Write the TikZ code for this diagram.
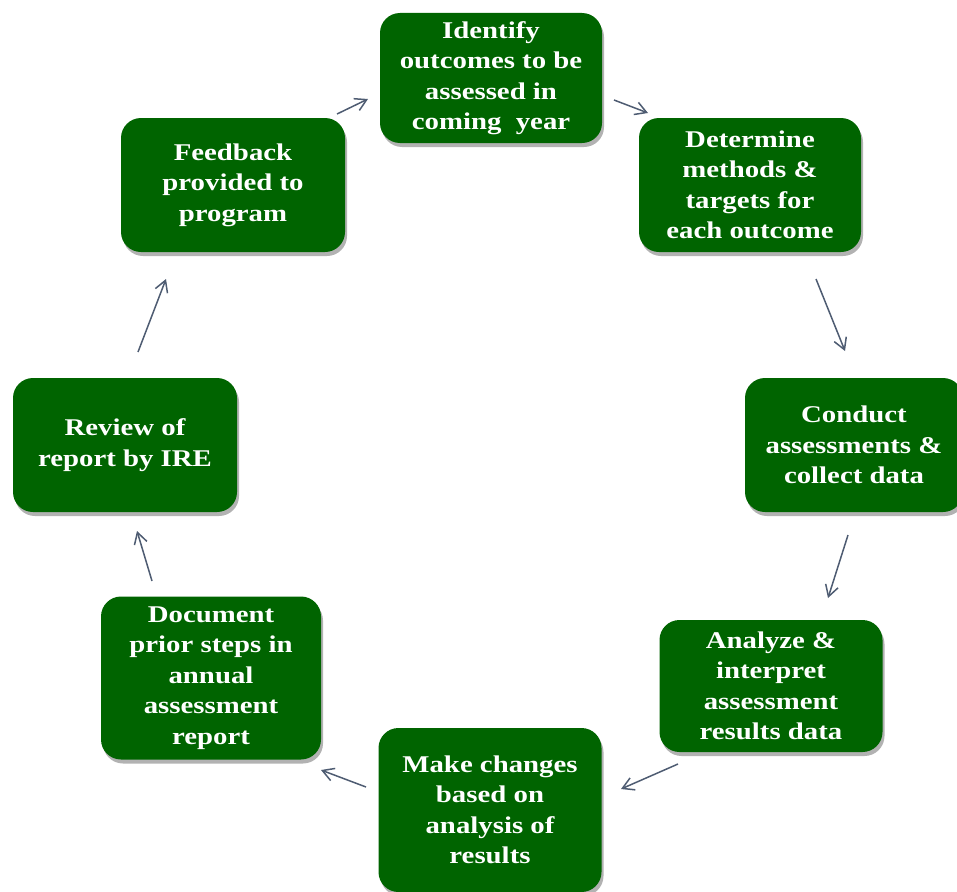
\documentclass[tikz,border=0pt]{standalone}
\usepackage{fontspec}
\setmainfont{Liberation Serif}[FakeStretch=1.2]
\usetikzlibrary{arrows.meta,shadows}
\definecolor{boxgreen}{RGB}{0,100,0}
\definecolor{arrowgray}{RGB}{78,92,114}
\tikzset{
  stepbox/.style={draw=none, fill=boxgreen, rounded corners=20pt, text=white,
    align=center, inner sep=0pt, minimum width=222pt, minimum height=134pt,
    font=\fontsize{24}{30.5}\selectfont\bfseries,
    drop shadow={shadow xshift=2pt, shadow yshift=-4pt, opacity=0.3, fill=black}},
  flow/.style={draw=arrowgray, line width=1.5pt,
    -{Straight Barb[angle=60:13pt, line width=1.5pt]}}
}
\begin{document}
\begin{tikzpicture}[x=1pt,y=-1pt]
\useasboundingbox (0,0) rectangle (957,891);
\begin{scope}
\clip (0,0) rectangle (957,891);
\node[stepbox, minimum height=130pt] (identify) at (491,78) {\raisebox{-3pt}{\begin{tabular}{@{}c@{}}Identify\\outcomes to be\\assessed in\\coming\ \ year\end{tabular}}};
\node[stepbox] (determine) at (750,185) {Determine\\methods \&\\targets for\\each outcome};
\node[stepbox, minimum width=218pt] (conduct) at (854,445) {Conduct\\assessments \&\\collect data};
\node[stepbox, minimum width=223pt, minimum height=132pt] (analyze) at (771,686) {Analyze \&\\interpret\\assessment\\results data};
\node[stepbox, minimum width=223pt, minimum height=164pt] (make) at (490,810) {Make changes\\based on\\analysis of\\results};
\node[stepbox, minimum width=220pt, minimum height=163pt] (document) at (211,678) {Document\\prior steps in\\annual\\assessment\\report};
\node[stepbox, minimum width=224pt] (review) at (125,445) {Review of\\report by IRE};
\node[stepbox, minimum width=224pt] (feedback) at (233,185) {Feedback\\provided to\\program};
\end{scope}
\coordinate (a1s) at (337,114); \coordinate (a1e) at (368,99);
\coordinate (a2s) at (614,100); \coordinate (a2e) at (648,113);
\coordinate (a3s) at (816,279); \coordinate (a3e) at (845,351);
\coordinate (a4s) at (848,535); \coordinate (a4e) at (828,598);
\coordinate (a5s) at (678,764); \coordinate (a5e) at (621,789);
\coordinate (a6s) at (366,787); \coordinate (a6e) at (321,770);
\coordinate (a7s) at (152,581); \coordinate (a7e) at (137,531);
\coordinate (a8s) at (138,352); \coordinate (a8e) at (166,279);
\draw[flow] (a1s) -- (a1e);
\draw[flow] (a2s) -- (a2e);
\draw[flow] (a3s) -- (a3e);
\draw[flow] (a4s) -- (a4e);
\draw[flow] (a5s) -- (a5e);
\draw[flow] (a6s) -- (a6e);
\draw[flow] (a7s) -- (a7e);
\draw[flow] (a8s) -- (a8e);
\end{tikzpicture}
\end{document}
